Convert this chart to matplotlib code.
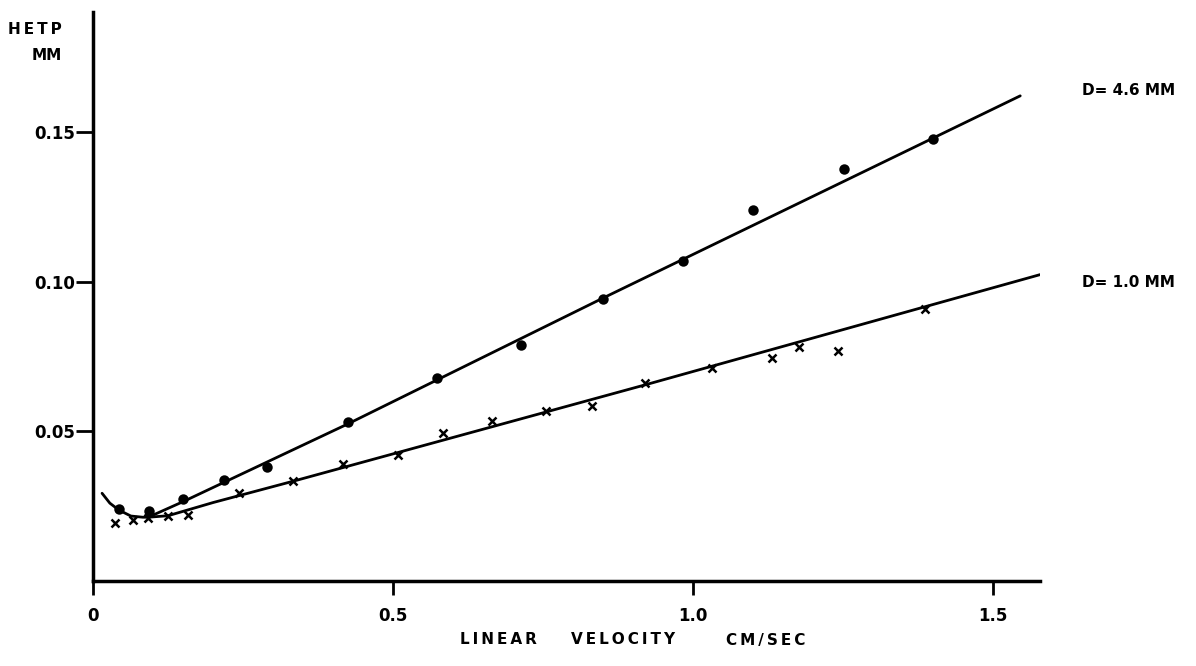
import matplotlib
matplotlib.use("Agg")
import matplotlib.pyplot as plt

# D = 4.6 mm column (circles)
vel_46 = [0.043, 0.093, 0.150, 0.218, 0.290, 0.425, 0.573, 0.713, 0.850, 0.983, 1.100, 1.252, 1.400]
hetp_46 = [0.0240, 0.0233, 0.0273, 0.0337, 0.0380, 0.0530, 0.0677, 0.0787, 0.0943, 0.1070, 0.1240, 0.1377, 0.1477]

# D = 1.0 mm column (crosses)
vel_10 = [0.037, 0.067, 0.092, 0.125, 0.158, 0.243, 0.333, 0.417, 0.508, 0.583, 0.665,
          0.755, 0.832, 0.920, 1.032, 1.132, 1.177, 1.242, 1.387]
hetp_10 = [0.0193, 0.0203, 0.0210, 0.0217, 0.0220, 0.0293, 0.0333, 0.0390, 0.0420, 0.0493, 0.0533,
           0.0567, 0.0583, 0.0660, 0.0710, 0.0743, 0.0783, 0.0767, 0.0907]

# hand-drawn curves
common_x = [0.015, 0.028, 0.043, 0.063, 0.083, 0.092]
common_y = [0.0293, 0.0260, 0.0237, 0.0217, 0.0213, 0.0213]
fit46_x = [0.092, 0.150, 0.425, 0.850, 1.545]
fit46_y = [0.0213, 0.0265, 0.0525, 0.0945, 0.1620]
fit10_x = [0.092, 0.125, 0.200, 0.333, 0.920, 1.578]
fit10_y = [0.0213, 0.0218, 0.0262, 0.0333, 0.0655, 0.1023]

xticks = [0, 0.5, 1.0, 1.5]
xtick_labels = ["0", "0.5", "1.0", "1.5"]
yticks = [0.05, 0.10, 0.15]
ytick_labels = ["0.05", "0.10", "0.15"]


def spaced(word):
    # old lettering-guide text is widely spaced
    return "\u2009".join(word)


plt.rcParams['font.family'] = ['DejaVu Sans']
plt.rcParams['font.weight'] = 'bold'

fig = plt.figure(figsize=(11.96, 6.66), dpi=100)
ax = fig.add_axes([0.0778, 0.1276, 0.7918, 0.8544])

lw = 2.0
ax.plot(common_x, common_y, color='black', lw=lw, solid_capstyle='round')
ax.plot(fit46_x, fit46_y, color='black', lw=lw, solid_capstyle='round')
ax.plot(fit10_x, fit10_y, color='black', lw=lw, solid_capstyle='round')

ax.plot(vel_46, hetp_46, 'o', color='black', markersize=6, markeredgewidth=1.5,
        markerfacecolor='black', linestyle='none')
ax.plot(vel_10, hetp_10, 'x', color='black', markersize=5.5, markeredgewidth=1.8, linestyle='none')

ax.set_xlim(0, 1.578)
ax.set_ylim(0, 0.19)
ax.set_xticks(xticks)
ax.set_xticklabels(xtick_labels)
ax.set_yticks(yticks)
ax.set_yticklabels(ytick_labels)

for side in ['top', 'right']:
    ax.spines[side].set_visible(False)
for side in ['left', 'bottom']:
    ax.spines[side].set_linewidth(2.5)

ax.tick_params(axis='y', direction='out', length=12, width=2, pad=1, labelsize=12)
ax.tick_params(axis='x', direction='out', length=10, width=2, pad=9, labelsize=12)

ax.text(1.648, 0.1637, "D= 4.6 MM", fontsize=11, fontweight='bold', ha='left', va='center', clip_on=False)
ax.text(1.648, 0.0997, "D= 1.0 MM", fontsize=11, fontweight='bold', ha='left', va='center', clip_on=False)

fig.text(62 / 1196, 1 - 30 / 666, spaced("HETP"), fontsize=11, fontweight='bold', ha='right', va='center')
fig.text(62 / 1196, 1 - 55 / 666, "MM", fontsize=11, fontweight='bold', ha='right', va='center')

fig.text(498 / 1196, 1 - 640 / 666, spaced("LINEAR"), fontsize=11, fontweight='bold', ha='center', va='center')
fig.text(623 / 1196, 1 - 640 / 666, spaced("VELOCITY"), fontsize=11, fontweight='bold', ha='center', va='center')
fig.text(766 / 1196, 1 - 640 / 666, spaced("CM/SEC"), fontsize=11, fontweight='bold', ha='center', va='center')

fig.savefig("out.png", dpi=100, facecolor='white')
